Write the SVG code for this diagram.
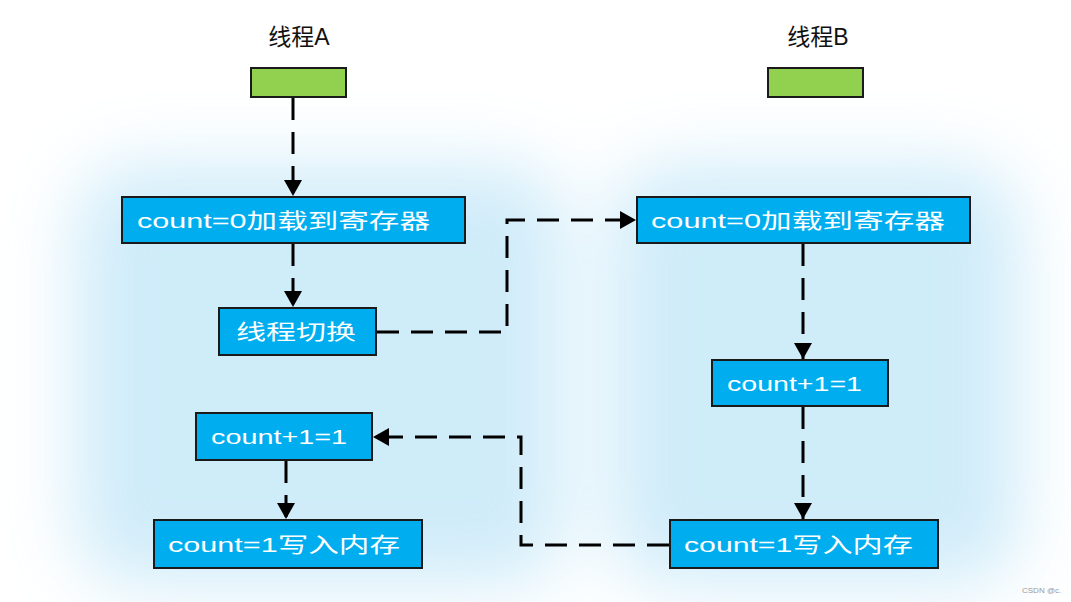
<svg xmlns="http://www.w3.org/2000/svg" width="1071" height="602" viewBox="0 0 1071 602">
<defs>
<filter id="blur" x="-30%" y="-30%" width="160%" height="160%"><feGaussianBlur stdDeviation="35"/></filter>
<marker id="arr" viewBox="0 0 16 18" refX="16" refY="9" markerWidth="16" markerHeight="18" markerUnits="userSpaceOnUse" orient="auto"><path d="M0,0 L16,9 L0,18 Z" fill="#000"/></marker>
<style>
.box{fill:#00aeef;stroke:#1a1a1a;stroke-width:2}
.green{fill:#92d050;stroke:#1a1a1a;stroke-width:2}
.t{font-family:"Liberation Sans","Noto Sans CJK SC",sans-serif;font-size:21px;fill:#fff}
.lbl{font-family:"Liberation Sans","Noto Sans CJK SC",sans-serif;font-size:23px;fill:#111}
.c{fill:none;stroke:#000;stroke-width:3;stroke-dasharray:22 12;marker-end:url(#arr)}
.wm{font-family:"Liberation Sans",sans-serif;font-size:8px;fill:#999}
</style>
</defs>
<rect width="1071" height="602" fill="#fff"/>
<g id="background" filter="url(#blur)" opacity="0.42">
<rect x="75" y="165" width="490" height="420" rx="60" fill="#8fd2f2"/>
<rect x="610" y="165" width="410" height="420" rx="60" fill="#8fd2f2"/>
</g>
<g id="labelA"><text class="lbl" x="299" y="45" text-anchor="middle">线程A</text></g>
<g id="labelB"><text class="lbl" x="818" y="45" text-anchor="middle">线程B</text></g>
<g id="startA"><rect class="green" x="251" y="68" width="95" height="29"/></g>
<g id="startB"><rect class="green" x="768" y="68" width="95" height="29"/></g>
<g id="a1"><rect class="box" x="122" y="197" width="343" height="46"/><text class="t" x="137" y="228" textLength="293" lengthAdjust="spacingAndGlyphs">count=0加载到寄存器</text></g>
<g id="a2"><rect class="box" x="219" y="308" width="157" height="47"/><text class="t" x="236" y="339" textLength="120" lengthAdjust="spacingAndGlyphs">线程切换</text></g>
<g id="a3"><rect class="box" x="196" y="413" width="176" height="47"/><text class="t" x="211" y="444" textLength="136" lengthAdjust="spacingAndGlyphs">count+1=1</text></g>
<g id="a4"><rect class="box" x="154" y="520" width="268" height="48"/><text class="t" x="168" y="552" textLength="232" lengthAdjust="spacingAndGlyphs">count=1写入内存</text></g>
<g id="b1"><rect class="box" x="637" y="197" width="333" height="46"/><text class="t" x="651" y="228" textLength="294" lengthAdjust="spacingAndGlyphs">count=0加载到寄存器</text></g>
<g id="b2"><rect class="box" x="712" y="360" width="176" height="46"/><text class="t" x="727" y="391" textLength="135" lengthAdjust="spacingAndGlyphs">count+1=1</text></g>
<g id="b3"><rect class="box" x="670" y="520" width="268" height="48"/><text class="t" x="684" y="552" textLength="229" lengthAdjust="spacingAndGlyphs">count=1写入内存</text></g>
<g id="connectors">
<path class="c" d="M293,98 L293,196"/>
<path class="c" d="M293,244 L293,307"/>
<path class="c" d="M377,332 L507,332 L507,220 L636,220"/>
<path class="c" d="M803,244 L803,359"/>
<path class="c" d="M803,407 L803,519"/>
<path class="c" d="M669,545 L521,545 L521,437 L373,437"/>
<path class="c" d="M286,461 L286,519"/>
</g>
<text class="wm" x="1022" y="593">CSDN @c.</text>
</svg>
